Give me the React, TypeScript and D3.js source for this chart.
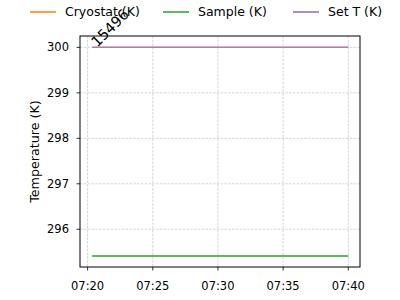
import React from "react";
import * as d3 from "d3";

const times = ["07:20:21", "07:22:00", "07:24:00", "07:26:00", "07:28:00", "07:30:00", "07:32:00", "07:34:00", "07:36:00", "07:38:00", "07:40:00"];
const cryostat = [300.0, 300.0, 300.0, 300.0, 300.0, 300.0, 300.0, 300.0, 300.0, 300.0, 300.0];
const sample = [295.41, 295.41, 295.41, 295.41, 295.41, 295.41, 295.41, 295.41, 295.41, 295.41, 295.41];
const setT = [300.0, 300.0, 300.0, 300.0, 300.0, 300.0, 300.0, 300.0, 300.0, 300.0, 300.0];
const yTicks = [296, 297, 298, 299, 300];
const xTickLabels = ["07:20", "07:25", "07:30", "07:35", "07:40"];
const seriesNames = ["Cryostat (K)", "Sample (K)", "Set T (K)"];
const seriesColors = ["#ff7f0e", "#2ca02c", "#9467bd"];
const seriesOpacity = [0.5, 1, 0.7];
const annotation = "15496";

const parse = d3.timeParse("%H:%M:%S");
const parseTick = d3.timeParse("%H:%M");

export default function App() {
  const W = 400, H = 300;
  const m = { l: 80, r: 360, t: 36, b: 267 };
  const dates = times.map((t) => parse(t)!);
  const x = d3
    .scaleTime()
    .domain([d3.timeSecond.offset(parseTick("07:20")!, -35), d3.timeSecond.offset(parseTick("07:40")!, 54)])
    .range([m.l, m.r]);
  const y = d3.scaleLinear().domain([295.17, 300.25]).range([m.b, m.t]);
  const line = d3
    .line<number>()
    .x((_, i) => x(dates[i]))
    .y((d) => y(d));
  const series = [cryostat, sample, setT];
  const font = "DejaVu Sans, sans-serif";
  const xTicks = xTickLabels.map((t) => parseTick(t)!);
  const legendX = [30, 163, 293];

  return (
    <svg width={W} height={H} style={{ position: "absolute", left: 0, top: 0 }} fontFamily={font}>
      <rect width={W} height={H} fill="#fff" />
      {/* grid */}
      {xTicks.map((t, i) => (
        <line key={"gx" + i} x1={x(t)} x2={x(t)} y1={m.t} y2={m.b} stroke="#c4c4c4" strokeWidth={0.7} strokeDasharray="2.6,1.2" />
      ))}
      {yTicks.map((t, i) => (
        <line key={"gy" + i} x1={m.l} x2={m.r} y1={y(t)} y2={y(t)} stroke="#c4c4c4" strokeWidth={0.7} strokeDasharray="2.6,1.2" />
      ))}
      {/* lines */}
      {series.map((s, i) => (
        <path key={"s" + i} d={line(s) || ""} fill="none" stroke={seriesColors[i]} strokeWidth={1.5} strokeOpacity={seriesOpacity[i]} />
      ))}
      {/* frame */}
      <rect x={m.l} y={m.t} width={m.r - m.l} height={m.b - m.t} fill="none" stroke="#000" strokeWidth={1} />
      {/* x ticks */}
      {xTicks.map((t, i) => (
        <g key={"xt" + i} transform={`translate(${x(t)},${m.b})`}>
          <line y2={3.5} stroke="#000" strokeWidth={0.8} />
          <text y={23} textAnchor="middle" fontSize={11.5} fill="#000">{xTickLabels[i]}</text>
        </g>
      ))}
      {/* y ticks */}
      {yTicks.map((t, i) => (
        <g key={"yt" + i} transform={`translate(${m.l},${y(t)})`}>
          <line x2={-3.5} stroke="#000" strokeWidth={0.8} />
          <text x={-11} dy="0.35em" textAnchor="end" fontSize={11.5} fill="#000">{t}</text>
        </g>
      ))}
      <text transform={`translate(38.5,${(m.t + m.b) / 2}) rotate(-90)`} textAnchor="middle" fontSize={12.7} fill="#000">Temperature (K)</text>
      {/* annotation */}
      <text transform={`translate(${x(dates[0]) + 5},${y(setT[0]) + 0.5}) rotate(-45)`} fontSize={14.5} fill="#000">{annotation}</text>
      {/* legend */}
      {seriesNames.map((n, i) => (
        <g key={"lg" + i} transform={`translate(${legendX[i]},12)`}>
          <line x1={0} x2={26} stroke={seriesColors[i]} strokeWidth={1.5} />
          <text x={35} dy="0.35em" fontSize={12.5} fill="#000">{n}</text>
        </g>
      ))}
    </svg>
  );
}
